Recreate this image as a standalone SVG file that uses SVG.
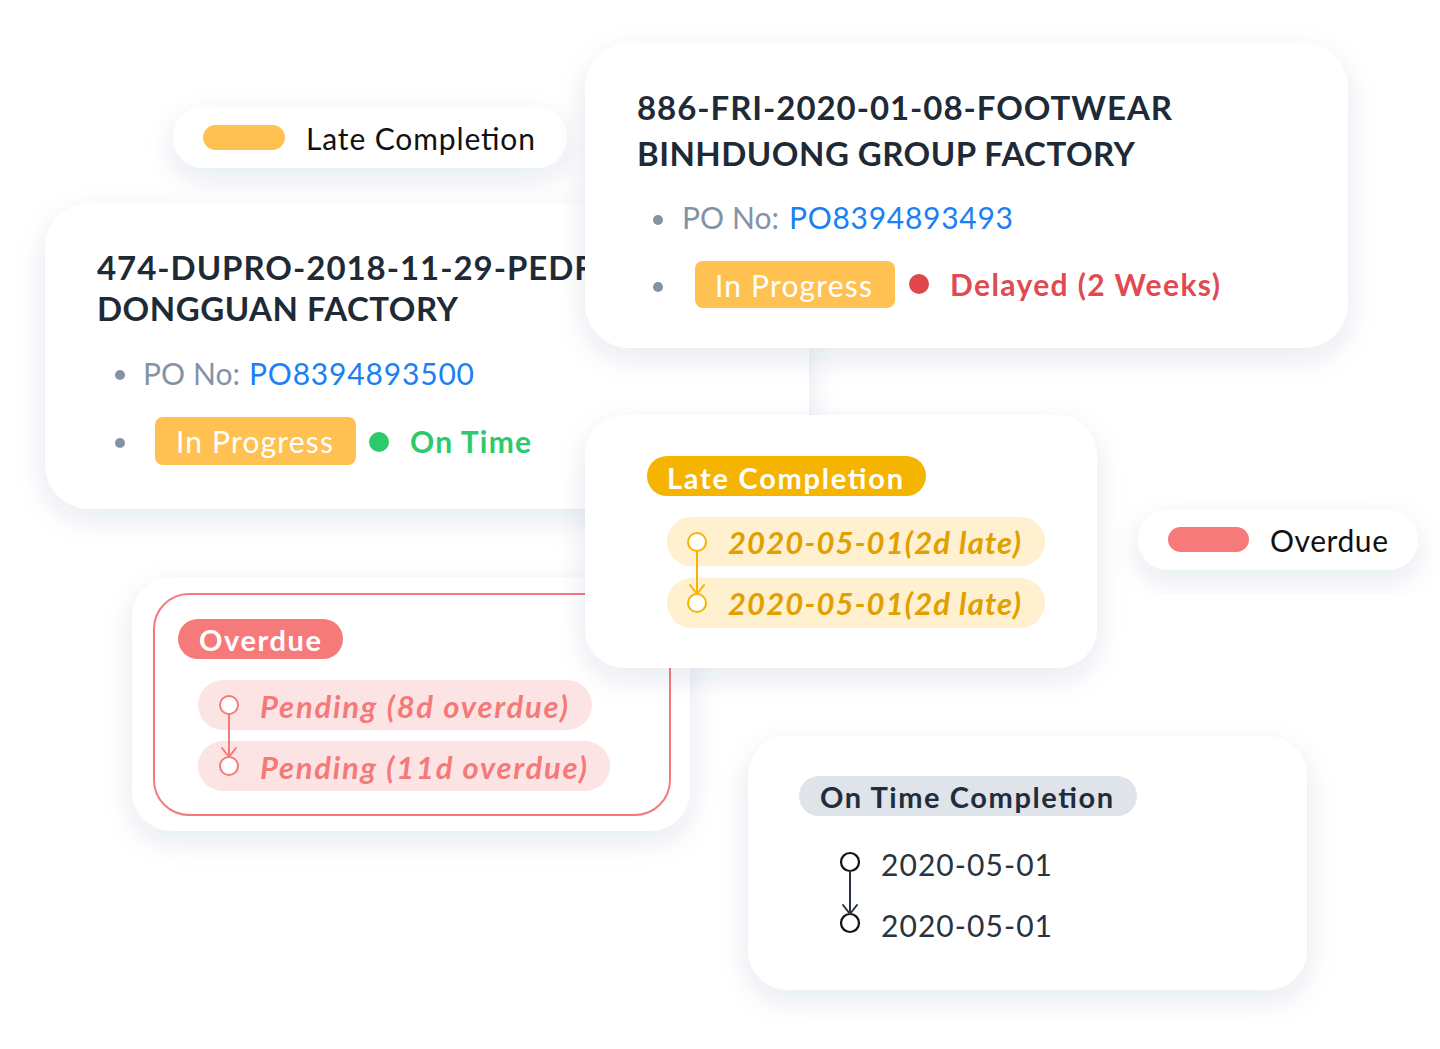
<svg xmlns="http://www.w3.org/2000/svg" width="1440" height="1049" viewBox="0 0 1440 1049">
<defs>
<filter id="sh" x="-20%" y="-30%" width="140%" height="170%">
<feDropShadow dx="0" dy="10" stdDeviation="14" flood-color="#1E3A6E" flood-opacity="0.10"/>
</filter>
</defs>
<style>
text{font-family:Lato,"Noto Sans","Liberation Sans",sans-serif}
.card{fill:#fff;filter:url(#sh)}
.title{font-size:33px;font-weight:700;fill:#1F2A37}
.po{font-size:30px;fill:#8492A6}
.blue{font-size:30px;fill:#1A80F5}
.dot{fill:#8492A6}
.badge{fill:#FFC152}
.badgeTxt{font-size:30px;fill:#fff}
.legend{font-size:30px;fill:#111}
.tag{font-size:29px;font-weight:700;fill:#fff}
.late{font-size:31px;font-weight:700;font-style:italic;fill:#E0A000}
.pend{font-size:31px;font-weight:700;font-style:italic;fill:#F47A7A}
.date{font-size:30px;fill:#2A3340}
.cn{fill:none;stroke-width:2;stroke-linecap:round;stroke-linejoin:round}
.cn-r{stroke:#F47A7A}
.cn-o{stroke:#F5B400}
.cn-k{stroke:#2A3340}
</style>
<rect width="1440" height="1049" fill="#fff"/>

<g id="legend-late">
<rect class="card" x="173" y="107" width="394" height="61" rx="30.5"/>
<rect x="203" y="125" width="82" height="25" rx="12.5" fill="#FFC152"/>
<text class="legend" x="306" y="150" textLength="229">Late Completion</text>
</g>

<g id="card-dupro">
<rect class="card" x="45" y="203" width="764" height="306" rx="45"/>
<text class="title" x="97" y="280" textLength="496">474-DUPRO-2018-11-29-PEDF</text>
<text class="title" x="97" y="321" textLength="361">DONGGUAN FACTORY</text>
<circle class="dot" cx="120" cy="375" r="5"/>
<text class="po" x="143" y="385" textLength="97">PO No:</text>
<text class="blue" x="249" y="385" textLength="225">PO8394893500</text>
<circle class="dot" cx="120" cy="443" r="5"/>
<rect class="badge" x="155" y="417" width="201" height="48" rx="8"/>
<text class="badgeTxt" x="176" y="453" textLength="157">In Progress</text>
<circle cx="379" cy="442" r="10" fill="#2DCA6B"/>
<text x="410" y="453" font-size="30" font-weight="700" fill="#2DCA6B" textLength="121">On Time</text>
</g>

<g id="card-fri">
<rect class="card" x="585" y="43" width="763" height="305" rx="45"/>
<text class="title" x="637" y="120" textLength="535">886-FRI-2020-01-08-FOOTWEAR</text>
<text class="title" x="637" y="166" textLength="498">BINHDUONG GROUP FACTORY</text>
<circle class="dot" cx="658" cy="220" r="5"/>
<text class="po" x="682" y="229" textLength="97">PO No:</text>
<text class="blue" x="789" y="229" textLength="224">PO8394893493</text>
<circle class="dot" cx="658" cy="287" r="5"/>
<rect class="badge" x="695" y="261" width="200" height="47" rx="8"/>
<text class="badgeTxt" x="715" y="297" textLength="157">In Progress</text>
<circle cx="919" cy="284" r="10" fill="#E0474C"/>
<text x="950" y="296" font-size="30" font-weight="700" fill="#E04A50" textLength="270">Delayed (2 Weeks)</text>
</g>

<g id="card-overdue">
<rect class="card" x="132" y="577" width="558" height="254" rx="40"/>
<rect x="154" y="594" width="516" height="221" rx="35" fill="#fff" stroke="#F47A7A" stroke-width="2"/>
<rect x="178" y="619" width="165" height="40" rx="20" fill="#F77A7A"/>
<text class="tag" x="199" y="651" textLength="122">Overdue</text>
<rect x="198" y="680" width="394" height="50" rx="25" fill="#FDE4E4"/>
<rect x="198" y="741" width="412" height="50" rx="25" fill="#FDE4E4"/>
<circle cx="229" cy="705" r="9" fill="#fff" stroke="#F47A7A" stroke-width="2"/>
<circle cx="229" cy="766" r="9" fill="#fff" stroke="#F47A7A" stroke-width="2"/>
<text class="pend" x="260" y="718" textLength="308">Pending (8d overdue)</text>
<text class="pend" x="260" y="779" textLength="327">Pending (11d overdue)</text>
</g>

<g id="card-late">
<rect class="card" x="585" y="415" width="512" height="253" rx="40"/>
<rect x="647" y="456" width="279" height="40" rx="20" fill="#F5B400"/>
<text class="tag" x="667" y="489" textLength="236">Late Completion</text>
<rect x="667" y="517" width="378" height="49" rx="24.5" fill="#FFF0CF"/>
<rect x="667" y="578" width="378" height="50" rx="25" fill="#FFF0CF"/>
<circle cx="697" cy="542" r="9" fill="#fff" stroke="#F5B400" stroke-width="2"/>
<circle cx="697" cy="603" r="9" fill="#fff" stroke="#F5B400" stroke-width="2"/>
<text class="late" x="728" y="554" textLength="293">2020-05-01(2d late)</text>
<text class="late" x="728" y="615" textLength="293">2020-05-01(2d late)</text>
</g>

<g id="legend-overdue">
<rect class="card" x="1138" y="510" width="280" height="60" rx="30"/>
<rect x="1168" y="527" width="81" height="25" rx="12.5" fill="#F77A7A"/>
<text class="legend" x="1270" y="552" textLength="118">Overdue</text>
</g>

<g id="card-ontime">
<rect class="card" x="748" y="736" width="559" height="254" rx="40"/>
<rect x="799" y="776" width="338" height="40" rx="20" fill="#DFE3EA"/>
<text x="820" y="808" font-size="29" font-weight="700" fill="#1F2D3D" textLength="293">On Time Completion</text>
<circle cx="850" cy="862" r="9" fill="#fff" stroke="#111" stroke-width="2.2"/>
<circle cx="850" cy="923" r="9" fill="#fff" stroke="#111" stroke-width="2.2"/>
<text class="date" x="881" y="876" textLength="171">2020-05-01</text>
<text class="date" x="881" y="937" textLength="171">2020-05-01</text>
</g>

<g id="connectors">
<path class="cn cn-r" d="M229,714 V757 M222,748 L229,757 L236,748"/>
<path class="cn cn-o" d="M697,551 V594 M690,585 L697,594 L704,585"/>
<path class="cn cn-k" d="M850,871 V914 M843,905 L850,914 L857,905"/>
</g>
</svg>
